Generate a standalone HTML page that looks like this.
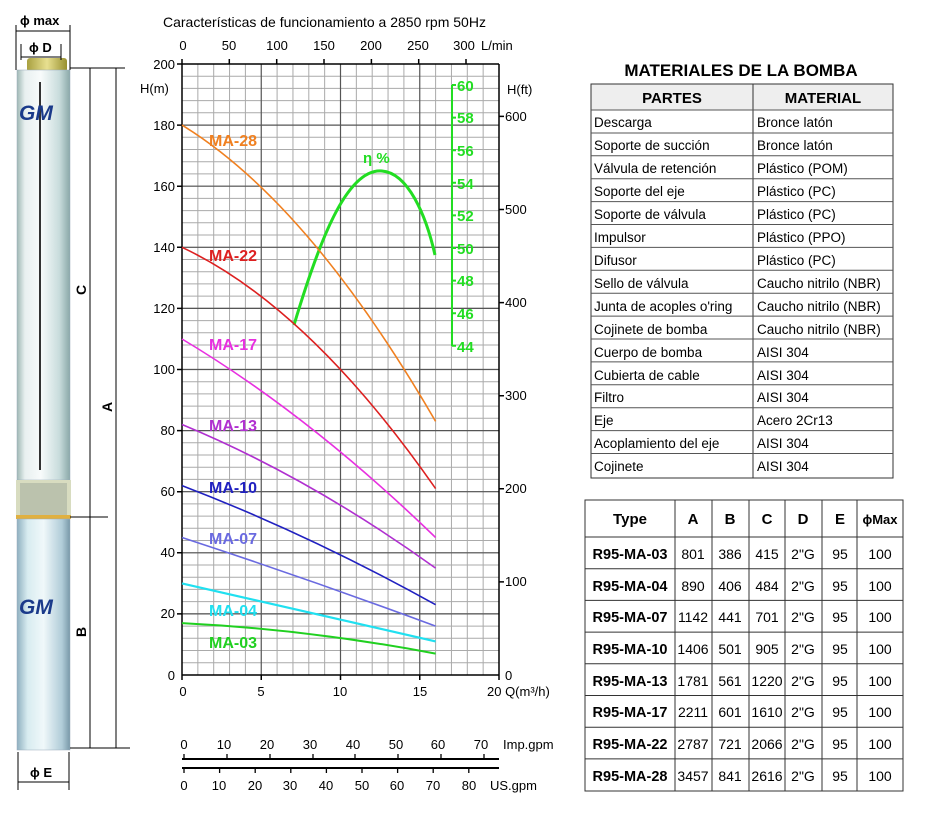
<!DOCTYPE html>
<html><head><meta charset="utf-8"><style>
body{margin:0;background:#fff;}
svg{display:block;font-family:"Liberation Sans",Arial,sans-serif;}
</style></head><body>
<svg width="927" height="815" viewBox="0 0 927 815" xmlns="http://www.w3.org/2000/svg">
<defs>
<linearGradient id="pg" x1="0" x2="1" y1="0" y2="0">
<stop offset="0" stop-color="#9fb8b4"/><stop offset="0.15" stop-color="#e8f0f0"/><stop offset="0.45" stop-color="#f8fbfb"/><stop offset="0.8" stop-color="#c8dcdc"/><stop offset="1" stop-color="#8aa8a8"/></linearGradient>
<linearGradient id="pg2" x1="0" x2="1" y1="0" y2="0">
<stop offset="0" stop-color="#8fb0c0"/><stop offset="0.2" stop-color="#d8ecf0"/><stop offset="0.5" stop-color="#f0f8fa"/><stop offset="0.85" stop-color="#b0ccd8"/><stop offset="1" stop-color="#7898a8"/></linearGradient>
<linearGradient id="brass" x1="0" x2="1"><stop offset="0" stop-color="#a8a040"/><stop offset="0.5" stop-color="#e8e090"/><stop offset="1" stop-color="#989030"/></linearGradient>
</defs>
<!-- pump -->
<rect x="27" y="58" width="40" height="14" rx="3" fill="url(#brass)"/>
<rect x="17" y="70" width="53" height="410" fill="url(#pg)" stroke="#9ab" stroke-width="0.5"/>
<line x1="40" y1="82" x2="40" y2="470" stroke="#333" stroke-width="2"/>
<rect x="16" y="480" width="55" height="38" fill="#d8dcc0"/>
<rect x="20" y="483" width="47" height="32" fill="#a8b0a0" opacity="0.6"/>
<rect x="16" y="515" width="55" height="4" fill="#e0b040"/>
<rect x="17" y="519" width="53" height="231" fill="url(#pg2)" stroke="#9ab" stroke-width="0.5"/>
<text x="19" y="120" font-size="21" font-weight="bold" fill="#1a3a8a" font-style="italic">GM</text>
<text x="19" y="614" font-size="21" font-weight="bold" fill="#1a3a8a" font-style="italic">GM</text>
<g stroke="#000" stroke-width="1" fill="none">
<line x1="16" y1="25" x2="16" y2="70"/><line x1="70" y1="25" x2="70" y2="70"/>
<line x1="16" y1="31" x2="70" y2="31"/>
<line x1="21" y1="44" x2="21" y2="60"/><line x1="61" y1="44" x2="61" y2="60"/>
<line x1="21" y1="57" x2="61" y2="57"/>
<line x1="70" y1="68" x2="125" y2="68"/>
<line x1="90" y1="68" x2="90" y2="748"/><line x1="116" y1="68" x2="116" y2="748"/>
<line x1="70" y1="517" x2="108" y2="517"/>
<line x1="70" y1="748" x2="130" y2="748"/>
<line x1="18" y1="752" x2="18" y2="790"/><line x1="69" y1="752" x2="69" y2="790"/>
<line x1="18" y1="782" x2="69" y2="782"/>
</g>
<text x="20" y="25" font-size="13" font-weight="bold">ϕ max</text>
<text x="29" y="52" font-size="13" font-weight="bold">ϕ D</text>
<text x="30" y="777" font-size="13" font-weight="bold">ϕ E</text>
<text x="86" y="295" font-size="14" font-weight="bold" transform="rotate(-90 86 295)">C</text>
<text x="112" y="412" font-size="14" font-weight="bold" transform="rotate(-90 112 412)">A</text>
<text x="86" y="637" font-size="14" font-weight="bold" transform="rotate(-90 86 637)">B</text>

<!-- chart -->
<text x="163" y="27" font-size="14">Características de funcionamiento a 2850 rpm 50Hz</text>
<g stroke="#aaa" stroke-width="1">
<path d="M197.85 64V675M213.7 64V675M229.55 64V675M245.4 64V675M277.1 64V675M292.95 64V675M308.8 64V675M324.65 64V675M356.35 64V675M372.2 64V675M388.05 64V675M403.9 64V675M435.6 64V675M451.45 64V675M467.3 64V675M483.15 64V675"/>
<path d="M182 88.4H499M182 100.6H499M182 112.8H499M182 125H499M182 149.5H499M182 161.7H499M182 173.9H499M182 186.1H499M182 210.6H499M182 222.8H499M182 235H499M182 247.2H499M182 271.7H499M182 283.9H499M182 296.1H499M182 308.3H499M182 332.8H499M182 345H499M182 357.2H499M182 369.4H499M182 393.9H499M182 406.1H499M182 418.3H499M182 430.5H499M182 455H499M182 467.2H499M182 479.4H499M182 491.6H499M182 516.1H499M182 528.3H499M182 540.5H499M182 552.7H499M182 577.2H499M182 589.4H499M182 601.6H499M182 613.8H499M182 638.3H499M182 650.5H499M182 662.7H499M182 76.2H499M182 137.3H499M182 198.4H499M182 259.5H499M182 320.6H499M182 381.7H499M182 442.8H499M182 503.9H499M182 565H499M182 626.1H499"/>
</g>
<g stroke="#555" stroke-width="1.2">
<path d="M261.25 64V675M340.5 64V675M419.75 64V675"/>
<path d="M182 125.1H499M182 186.2H499M182 247.3H499M182 308.4H499M182 369.5H499M182 430.6H499M182 491.7H499M182 552.8H499M182 613.9H499"/>
</g>
<g stroke="#000" stroke-width="1.5" fill="none">
<line x1="182" y1="64" x2="182" y2="675"/><line x1="499" y1="64" x2="499" y2="675"/>
<line x1="182" y1="64" x2="499" y2="64"/><line x1="182" y1="675" x2="499" y2="675"/>
<path d="M182 64v-5M229.3 64v-5M276.7 64v-5M324 64v-5M371.4 64v-5M418.7 64v-5M466 64v-5"/>
<path d="M499 116.4h5M499 209.5h5M499 302.6h5M499 395.7h5M499 488.8h5M499 581.9h5"/>
<path d="M182 675v5M261.25 675v5M340.5 675v5M419.75 675v5M499 675v5"/>
<path d="M177 64h5M177 125.1h5M177 186.2h5M177 247.3h5M177 308.4h5M177 369.5h5M177 430.6h5M177 491.7h5M177 552.8h5M177 613.9h5"/>
</g>
<g font-size="13" text-anchor="end">
<text x="175" y="69">200</text><text x="175" y="130">180</text><text x="175" y="191">160</text><text x="175" y="252">140</text><text x="175" y="313">120</text><text x="175" y="374">100</text><text x="175" y="435">80</text><text x="175" y="496">60</text><text x="175" y="557">40</text><text x="175" y="618">20</text><text x="175" y="680">0</text>
</g>
<text x="140" y="93" font-size="13">H(m)</text>
<g font-size="13" text-anchor="middle">
<text x="183" y="50">0</text><text x="229" y="50">50</text><text x="277" y="50">100</text><text x="324" y="50">150</text><text x="371" y="50">200</text><text x="418" y="50">250</text><text x="464" y="50">300</text>
<text x="183" y="696">0</text><text x="261" y="696">5</text><text x="340" y="696">10</text><text x="420" y="696">15</text>
</g>
<text x="481" y="50" font-size="13">L/min</text>
<text x="487" y="696" font-size="13">20 Q(m³/h)</text>
<g font-size="13">
<text x="507" y="94">H(ft)</text><text x="505" y="121">600</text><text x="505" y="214">500</text><text x="505" y="307">400</text><text x="505" y="400">300</text><text x="505" y="493">200</text><text x="505" y="586">100</text><text x="505" y="680">0</text>
</g>
<!-- efficiency axis -->
<g stroke="#22dd22" stroke-width="2" fill="none">
<path d="M452 85V346"/>
<path d="M452 85h4M452 117.6h4M452 150.2h4M452 182.8h4M452 215.4h4M452 248h4M452 280.6h4M452 313.2h4M452 345.8h4"/>
<path d="M294 325 C318 245 346 168 382 171 C408 173 426 215 435 255" stroke-width="3"/>
</g>
<g font-size="15" fill="#22dd22" font-weight="bold">
<text x="457" y="91">60</text><text x="457" y="123">58</text><text x="457" y="156">56</text><text x="457" y="189">54</text><text x="457" y="221">52</text><text x="457" y="254">50</text><text x="457" y="286">48</text><text x="457" y="319">46</text><text x="457" y="352">44</text>
<text x="363" y="163" font-size="15">η %</text>
</g>
<!-- curves -->
<g fill="none" stroke-width="1.6">
<path d="M182 125.1Q308.8 202.7 435.6 421.4" stroke="#f08020"/>
<path d="M182 247.3Q308.8 306.9 435.6 488.6" stroke="#dd2020"/>
<path d="M182 339Q308.8 414.7 435.6 537.5" stroke="#e830e0"/>
<path d="M182 424.5Q308.8 477 435.6 568.1" stroke="#b030d0"/>
<path d="M182 485.6Q308.8 534.2 435.6 604.7" stroke="#2020c0"/>
<path d="M182 537.5Q308.8 579.1 435.6 626.1" stroke="#6a6ae0"/>
<path d="M182 583.4Q308.8 612.4 435.6 641.4" stroke="#20e0f0" stroke-width="2.2"/>
<path d="M182 623.1Q308.8 629.5 435.6 653.6" stroke="#20d020" stroke-width="2"/>
</g>
<g font-size="16" font-weight="bold">
<text x="209" y="146" fill="#f08020">MA-28</text>
<text x="209" y="261" fill="#dd2020">MA-22</text>
<text x="209" y="350" fill="#e830e0">MA-17</text>
<text x="209" y="431" fill="#b030d0">MA-13</text>
<text x="209" y="493" fill="#2020c0">MA-10</text>
<text x="209" y="544" fill="#6a6ae0">MA-07</text>
<text x="209" y="616" fill="#20e0f0">MA-04</text>
<text x="209" y="648" fill="#20d020">MA-03</text>
</g>
<!-- gpm axes -->
<g stroke="#000" stroke-width="2" fill="none">
<path d="M182 759H499M182 768H499"/>
<path d="M184 754v5M227 754v5M270 754v5M313 754v5M355 754v5M398 754v5M441 754v5M484 754v5" stroke-width="1.3"/>
<path d="M184 768v5M219.6 768v5M255.2 768v5M290.8 768v5M326.4 768v5M362 768v5M397.6 768v5M433.2 768v5M468.8 768v5" stroke-width="1.3"/>
</g>
<g font-size="13" text-anchor="middle">
<text x="184" y="749">0</text><text x="224" y="749">10</text><text x="267" y="749">20</text><text x="310" y="749">30</text><text x="353" y="749">40</text><text x="396" y="749">50</text><text x="438" y="749">60</text><text x="481" y="749">70</text>
<text x="184" y="790">0</text><text x="219" y="790">10</text><text x="255" y="790">20</text><text x="290" y="790">30</text><text x="326" y="790">40</text><text x="362" y="790">50</text><text x="397" y="790">60</text><text x="433" y="790">70</text><text x="469" y="790">80</text>
</g>
<text x="503" y="749" font-size="13">Imp.gpm</text>
<text x="490" y="790" font-size="13">US.gpm</text>

<!-- materials table -->
<g font-size="13.5">
<text x="741" y="76" font-size="17" font-weight="bold" text-anchor="middle">MATERIALES DE LA BOMBA</text>
<rect x="591" y="84" width="302" height="26" fill="#eee"/>
<rect x="591" y="84" width="302" height="394" fill="none" stroke="#333" stroke-width="1"/>
<line x1="753" y1="84" x2="753" y2="478" stroke="#333"/>
<path d="M591 110H893M591 133H893M591 155.8H893M591 178.7H893M591 201.6H893M591 224.5H893M591 247.4H893M591 270.3H893M591 293.2H893M591 316.1H893M591 339H893M591 361.9H893M591 384.8H893M591 407.7H893M591 430.6H893M591 453.5H893" stroke="#555" stroke-width="1"/>
<text x="672" y="103" font-size="15" font-weight="bold" text-anchor="middle">PARTES</text>
<text x="823" y="103" font-size="15" font-weight="bold" text-anchor="middle">MATERIAL</text>
<text x="594" y="127">Descarga</text><text x="757" y="127">Bronce latón</text>
<text x="594" y="150">Soporte de succión</text><text x="757" y="150">Bronce latón</text>
<text x="594" y="173">Válvula de retención</text><text x="757" y="173">Plástico (POM)</text>
<text x="594" y="196">Soporte del eje</text><text x="757" y="196">Plástico (PC)</text>
<text x="594" y="219">Soporte de válvula</text><text x="757" y="219">Plástico (PC)</text>
<text x="594" y="242">Impulsor</text><text x="757" y="242">Plástico (PPO)</text>
<text x="594" y="265">Difusor</text><text x="757" y="265">Plástico (PC)</text>
<text x="594" y="288">Sello de válvula</text><text x="757" y="288">Caucho nitrilo (NBR)</text>
<text x="594" y="311">Junta de acoples o'ring</text><text x="757" y="311">Caucho nitrilo (NBR)</text>
<text x="594" y="334">Cojinete de bomba</text><text x="757" y="334">Caucho nitrilo (NBR)</text>
<text x="594" y="357">Cuerpo de bomba</text><text x="757" y="357">AISI 304</text>
<text x="594" y="380">Cubierta de cable</text><text x="757" y="380">AISI 304</text>
<text x="594" y="402">Filtro</text><text x="757" y="402">AISI 304</text>
<text x="594" y="425">Eje</text><text x="757" y="425">Acero 2Cr13</text>
<text x="594" y="448">Acoplamiento del eje</text><text x="757" y="448">AISI 304</text>
<text x="594" y="471">Cojinete</text><text x="757" y="471">AISI 304</text>
</g>
<!-- dimension table -->
<g stroke="#333" stroke-width="1" fill="none">
<rect x="585" y="500" width="318" height="291"/>
<path d="M675 500V791M712 500V791M749 500V791M785 500V791M822 500V791M857 500V791"/>
<path d="M585 537H903M585 568.7H903M585 600.4H903M585 632.1H903M585 663.8H903M585 695.5H903M585 727.2H903M585 758.9H903"/>
</g>
<g font-size="14" text-anchor="middle">
<g font-weight="bold" font-size="15"><text x="630" y="524">Type</text><text x="693" y="524">A</text><text x="730" y="524">B</text><text x="767" y="524">C</text><text x="803" y="524">D</text><text x="840" y="524">E</text><text x="880" y="524" font-size="13">ϕMax</text></g>
<g font-weight="bold" font-size="14.5"><text x="630" y="559">R95-MA-03</text><text x="630" y="591">R95-MA-04</text><text x="630" y="622">R95-MA-07</text><text x="630" y="654">R95-MA-10</text><text x="630" y="686">R95-MA-13</text><text x="630" y="717">R95-MA-17</text><text x="630" y="749">R95-MA-22</text><text x="630" y="781">R95-MA-28</text></g>
<text x="693" y="559">801</text><text x="730" y="559">386</text><text x="767" y="559">415</text>
<text x="693" y="591">890</text><text x="730" y="591">406</text><text x="767" y="591">484</text>
<text x="693" y="622">1142</text><text x="730" y="622">441</text><text x="767" y="622">701</text>
<text x="693" y="654">1406</text><text x="730" y="654">501</text><text x="767" y="654">905</text>
<text x="693" y="686">1781</text><text x="730" y="686">561</text><text x="767" y="686">1220</text>
<text x="693" y="717">2211</text><text x="730" y="717">601</text><text x="767" y="717">1610</text>
<text x="693" y="749">2787</text><text x="730" y="749">721</text><text x="767" y="749">2066</text>
<text x="693" y="781">3457</text><text x="730" y="781">841</text><text x="767" y="781">2616</text>
<g><text x="803" y="559">2"G</text><text x="803" y="591">2"G</text><text x="803" y="622">2"G</text><text x="803" y="654">2"G</text><text x="803" y="686">2"G</text><text x="803" y="717">2"G</text><text x="803" y="749">2"G</text><text x="803" y="781">2"G</text></g>
<g><text x="840" y="559">95</text><text x="840" y="591">95</text><text x="840" y="622">95</text><text x="840" y="654">95</text><text x="840" y="686">95</text><text x="840" y="717">95</text><text x="840" y="749">95</text><text x="840" y="781">95</text></g>
<g><text x="880" y="559">100</text><text x="880" y="591">100</text><text x="880" y="622">100</text><text x="880" y="654">100</text><text x="880" y="686">100</text><text x="880" y="717">100</text><text x="880" y="749">100</text><text x="880" y="781">100</text></g>
</g>
</svg>
</body></html>
